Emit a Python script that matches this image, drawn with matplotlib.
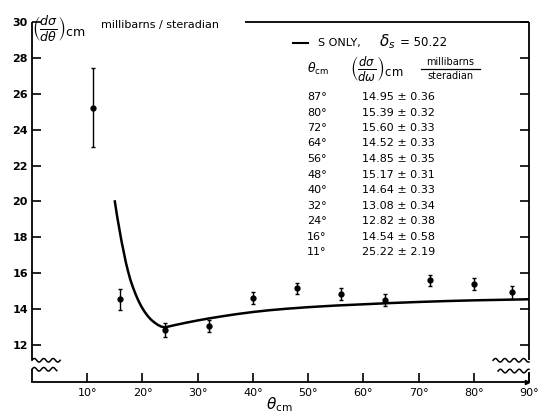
import numpy as np
import matplotlib
matplotlib.use("Agg")
import matplotlib.pyplot as plt

plt.rcParams["font.family"] = ["DejaVu Sans"]
plt.rcParams["mathtext.fontset"] = "dejavusans"

# ---- data ----
theta_cm = [87, 80, 72, 64, 56, 48, 40, 32, 24, 16, 11]
xsec = [14.95, 15.39, 15.60, 14.52, 14.85, 15.17, 14.64, 13.08, 12.82, 14.54, 25.22]
xsec_err = [0.36, 0.32, 0.33, 0.33, 0.35, 0.31, 0.33, 0.34, 0.38, 0.58, 2.19]

curve_theta = [15.0, 15.4, 15.8, 16.2, 16.6, 17.0, 17.4, 17.8, 18.3, 18.8, 19.3, 19.8,
               20.4, 21.0, 21.6, 22.2, 22.8, 23.4, 24.0, 25.0, 26.0, 28.0, 30.0, 32.0,
               34.0, 37.0, 40.0, 43.0, 46.0, 50.0, 55.0, 60.0, 65.0, 70.0, 75.0, 80.0,
               85.0, 90.0]
curve_xs = [20.0, 19.2, 18.5, 17.8, 17.2, 16.6, 16.1, 15.65, 15.2, 14.8, 14.45, 14.15,
            13.85, 13.6, 13.4, 13.25, 13.12, 13.03, 12.98, 13.05, 13.12, 13.25, 13.37, 13.48,
            13.58, 13.72, 13.84, 13.94, 14.02, 14.11, 14.2, 14.27, 14.34, 14.4, 14.45, 14.49,
            14.52, 14.55]

x_ticks = [10, 20, 30, 40, 50, 60, 70, 80, 90]
x_ticklabels = ["10°", "20°", "30°", "40°", "50°", "60°", "70°", "80°", "90°"]
y_ticks = [12, 14, 16, 18, 20, 22, 24, 26, 28, 30]
delta_s = "50.22"

W, H = 545, 415
fig = plt.figure(figsize=(W / 100, H / 100), dpi=100)
ax = fig.add_axes([32 / W, 1 - 382 / H, (529 - 32) / W, (382 - 22) / H])
ymin, ymax = 9.94, 30.0
ax.set_xlim(0, 90)
ax.set_ylim(ymin, ymax)

for s in ["top", "left", "right"]:
    ax.spines[s].set_visible(False)
ax.spines["bottom"].set_linewidth(1.3)

lk = dict(color="black", lw=1.3, clip_on=False, solid_capstyle="butt")
brk_hi, brk_lo_l, brk_lo_r = 11.15, 10.65, 10.5
# left spine with break
ax.plot([0, 0], [brk_hi, ymax], **lk)
ax.plot([0, 0], [ymin, brk_lo_l], **lk)
# right spine with break
ax.plot([90, 90], [brk_hi, ymax], **lk)
ax.plot([90, 90], [ymin, brk_lo_r], **lk)
# top border (partial)
ax.plot([38.6, 90], [ymax, ymax], **lk)

# wavy break marks
def wave(x0, x1, y0):
    xx = np.linspace(x0, x1, 80)
    yy = y0 + 0.1 * np.sin((xx - x0) / 1.7 * 2 * np.pi)
    ax.plot(xx, yy, color="black", lw=1.1, clip_on=False)

wave(0, 5.1, brk_hi)
wave(0, 4.5, brk_lo_l)
wave(83.5, 90, brk_hi)
wave(84.4, 90, brk_lo_r + 0.05)
ax.plot([89.6], [ymin], marker=">", ms=3, color="black", clip_on=False)

ax.set_xticks(x_ticks)
ax.set_xticklabels(x_ticklabels, fontsize=8)
ax.set_yticks(y_ticks)
ax.set_yticklabels([str(v) for v in y_ticks], fontsize=8, fontweight="bold")
ax.yaxis.set_ticks_position("both")
ax.tick_params(axis="both", direction="in", length=6.5, width=1.2)
ax.tick_params(axis="x", pad=4)
ax.tick_params(axis="y", pad=3)

# theory curve
ax.plot(curve_theta, curve_xs, color="black", lw=1.8, solid_joinstyle="round")

# data
ax.errorbar(theta_cm, xsec, yerr=xsec_err, fmt="o", ms=3.5, color="black",
            ecolor="black", elinewidth=1.0, capsize=1.5, capthick=1.0)

def ftext(x, y, s, **kw):
    fig.text(x / W, 1 - y / H, s, **kw)

# y label at top-left
ftext(32, 29, r"$\left(\frac{d\sigma}{d\theta}\right)_{\rm cm}$", fontsize=13, va="center", ha="left")
ftext(101, 25, "millibarns / steradian", fontsize=8, va="center", ha="left")

# x label
ftext(279, 405, r"$\theta_{\rm cm}$", fontsize=11, va="center", ha="center")

# legend
fig.add_artist(plt.Line2D([293 / W, 308 / W], [1 - 43 / H, 1 - 43 / H], color="black", lw=1.5))
ftext(318, 43, r"S ONLY,", fontsize=8, va="center", ha="left")
ftext(379, 42, r"$\delta_{s}$", fontsize=11, va="center", ha="left")
ftext(400, 43, "= " + delta_s, fontsize=8.5, va="center", ha="left")

# table header
ftext(307, 69, r"$\theta_{\rm cm}$", fontsize=9, va="center", ha="left")
ftext(350, 69, r"$\left(\frac{d\sigma}{d\omega}\right)_{\rm cm}$", fontsize=12, va="center", ha="left")
ftext(450, 62, "millibarns", fontsize=7, va="center", ha="center")
ftext(450, 76, "steradian", fontsize=7, va="center", ha="center")
fig.add_artist(plt.Line2D([421 / W, 480 / W], [1 - 69 / H, 1 - 69 / H], color="black", lw=0.9))

# table rows
row_y0, row_dy = 97, 15.5
for i, (t, v, e) in enumerate(zip(theta_cm, xsec, xsec_err)):
    y = row_y0 + i * row_dy
    ftext(307, y, f"{t}°", fontsize=8, va="center", ha="left")
    ftext(362, y, f"{v:.2f} ± {e:.2f}", fontsize=8, va="center", ha="left")

fig.savefig("out.png", dpi=100)
